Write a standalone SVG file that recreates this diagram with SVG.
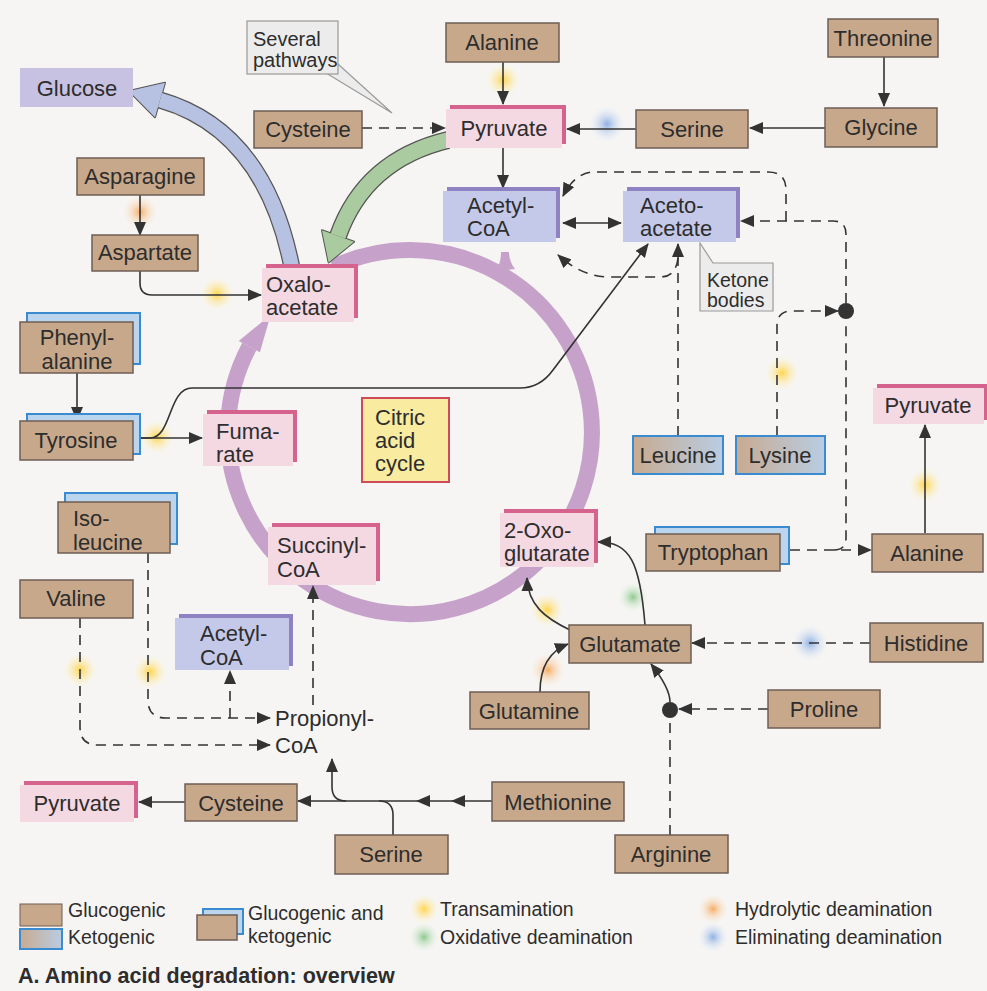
<svg xmlns="http://www.w3.org/2000/svg" width="987" height="991" viewBox="0 0 987 991">
<style>
.t{font-family:'Liberation Sans',Arial,Helvetica,sans-serif;font-size:22px;fill:#2d2d2d}
.m{text-anchor:middle}
.s{font-size:20px}
.l{font-size:19.5px}
.gb{fill:#c8a88b;stroke:#6e5e54;stroke-width:1.5}
.kb{fill:#bcd5ee;stroke:#3a8bd0;stroke-width:2}
.kt{fill:url(#kg);stroke:#3a8bd0;stroke-width:2}
.pb{fill:#d6638d}
.pf{fill:#f4d8e2}
.lb{fill:#8e82c3}
.lf{fill:#c5c9e9}
.c{fill:none;stroke:#333;stroke-width:1.6}
.d{stroke-dasharray:10 7}
.call{fill:#ececec;stroke:#9a9a9a;stroke-width:1.2}
</style>
<defs>
<linearGradient id="kg" x1="0" y1="0" x2="1" y2="0"><stop offset="0" stop-color="#c8aa90"/><stop offset="1" stop-color="#b9cde3"/></linearGradient>
<radialGradient id="gy"><stop offset="0" stop-color="#ffd23c" stop-opacity="0.9"/><stop offset="0.45" stop-color="#ffe07a" stop-opacity="0.5"/><stop offset="1" stop-color="#fff3c0" stop-opacity="0"/></radialGradient>
<radialGradient id="go"><stop offset="0" stop-color="#f5a04a" stop-opacity="0.85"/><stop offset="0.45" stop-color="#f8c08a" stop-opacity="0.45"/><stop offset="1" stop-color="#fde0c0" stop-opacity="0"/></radialGradient>
<radialGradient id="gg"><stop offset="0" stop-color="#7cc07c" stop-opacity="0.85"/><stop offset="0.45" stop-color="#a8d6a8" stop-opacity="0.45"/><stop offset="1" stop-color="#d8f0d8" stop-opacity="0"/></radialGradient>
<radialGradient id="gbl"><stop offset="0" stop-color="#7ea4e0" stop-opacity="0.85"/><stop offset="0.45" stop-color="#a8c2ec" stop-opacity="0.45"/><stop offset="1" stop-color="#d8e4f8" stop-opacity="0"/></radialGradient>
<marker id="ah" markerUnits="userSpaceOnUse" markerWidth="14" markerHeight="12" viewBox="0 0 14 12" refX="13" refY="6" orient="auto"><path d="M0,0 L14,6 L0,12 Z" fill="#333"/></marker>
<marker id="ahr" markerUnits="userSpaceOnUse" markerWidth="14" markerHeight="12" viewBox="0 0 14 12" refX="13" refY="6" orient="auto-start-reverse"><path d="M0,0 L14,6 L0,12 Z" fill="#333"/></marker>
</defs>
<rect width="987" height="991" fill="#f6f5f3"/>

<!-- citric acid cycle ring -->
<g id="ring">
<path d="M333.1,267.1 A182,182 0 1 1 249.3,346.5" fill="none" stroke="#c6a1c9" stroke-width="16"/>
<polygon points="259.9,352.2 238.7,340.9 270.6,315" fill="#c6a1c9"/>
<path d="M497,271 C500,263 501,258 501,252 L509,252 C509,258 511,264 515,269 Z" fill="#c6a1c9"/>
</g>

<!-- big curved arrows -->
<g id="big-arrows">
<path d="M292,268 Q265,130 160,100" fill="none" stroke="#555" stroke-width="17"/>
<polygon points="165,82.7 155,117.3 129,91" fill="#555" stroke="#555" stroke-width="2" stroke-linejoin="round"/>
<path d="M292,268 Q265,130 160,100" fill="none" stroke="#b7c1e2" stroke-width="14.5"/>
<polygon points="165,82.7 155,117.3 129,91" fill="#b7c1e2"/>
<path d="M448,140 Q365,160 338,236" fill="none" stroke="#555" stroke-width="18"/>
<polygon points="354,241.7 322,230.3 328.6,262.4" fill="#555" stroke="#555" stroke-width="2" stroke-linejoin="round"/>
<path d="M448,140 Q365,160 338,236" fill="none" stroke="#a9cb9f" stroke-width="15.5"/>
<polygon points="354,241.7 322,230.3 328.6,262.4" fill="#a9cb9f"/>
</g>

<!-- deamination glows -->
<g id="glows">
<circle cx="503" cy="80" r="17" fill="url(#gy)"/>
<circle cx="607" cy="124" r="18" fill="url(#gbl)"/>
<circle cx="140" cy="212" r="17" fill="url(#go)"/>
<circle cx="217" cy="294" r="17" fill="url(#gy)"/>
<circle cx="157" cy="437" r="17" fill="url(#gy)"/>
<circle cx="782" cy="373" r="17" fill="url(#gy)"/>
<circle cx="925" cy="485" r="17" fill="url(#gy)"/>
<circle cx="80" cy="670" r="17" fill="url(#gy)"/>
<circle cx="150" cy="672" r="17" fill="url(#gy)"/>
<circle cx="547" cy="610" r="17" fill="url(#gy)"/>
<circle cx="548" cy="670" r="17" fill="url(#go)"/>
<circle cx="633" cy="597" r="15" fill="url(#gg)"/>
<circle cx="810" cy="643" r="18" fill="url(#gbl)"/>
</g>

<!-- connectors -->
<g id="connectors">
<path class="c" d="M503,62 V104" marker-end="url(#ah)"/>
<path class="c d" d="M362,128 H445" marker-end="url(#ah)"/>
<path class="c" d="M636,129 H567" marker-end="url(#ah)"/>
<path class="c" d="M503,148 V188" marker-end="url(#ah)"/>
<path class="c" d="M825,128 H750" marker-end="url(#ah)"/>
<path class="c" d="M884,57 V106" marker-end="url(#ah)"/>
<path class="c" d="M563,223 H621" marker-start="url(#ahr)" marker-end="url(#ahr)"/>
<path class="c d" d="M846,303 V234 Q846,221 833,221 H741" marker-end="url(#ah)"/>
<path class="c d" d="M786,221 V190 Q786,172 768,172 H592 Q574,174 563,196" marker-end="url(#ah)"/>
<path class="c d" d="M678,436 V244" marker-end="url(#ah)"/>
<path class="c d" d="M678,258 Q676,277 660,277 H610 Q582,277 558,255" marker-end="url(#ah)"/>
<path class="c d" d="M777,436 V326 Q777,311 792,311 H838" marker-end="url(#ah)"/>
<circle cx="846" cy="311" r="8" fill="#333"/>
<path class="c d" d="M834,550 Q846,550 846,538 V320"/>
<path class="c d" d="M790,550 H871" marker-end="url(#ah)"/>
<path class="c" d="M925,533 V425" marker-end="url(#ah)"/>
<path class="c" d="M140,195 V235" marker-end="url(#ah)"/>
<path class="c" d="M140,271 V283 Q140,295 152,295 H261" marker-end="url(#ah)"/>
<path class="c" d="M77,373 V420" marker-end="url(#ah)"/>
<path class="c" d="M133,438 H202" marker-end="url(#ah)"/>
<path class="c" d="M140,438 H150 C172,438 168,388 192,388 H520 Q540,388 553,370 L648,244" marker-end="url(#ah)"/>
<path class="c d" d="M148,553 V700 Q148,718 166,718 H270" marker-end="url(#ah)"/>
<path class="c d" d="M80,618 V727 Q80,745 98,745 H270" marker-end="url(#ah)"/>
<path class="c d" d="M230,718 V671" marker-end="url(#ah)"/>
<path class="c d" d="M313,705 V586" marker-end="url(#ah)"/>
<path class="c" d="M492,801 H298" marker-end="url(#ah)"/>
<polygon points="465,795 451,801 465,807" fill="#333"/>
<polygon points="430,795 416,801 430,807" fill="#333"/>
<path class="c" d="M393,835 V815 Q393,801 379,801"/>
<path class="c" d="M346,801 Q332,801 332,787 V759" marker-end="url(#ah)"/>
<path class="c" d="M185,802 H139" marker-end="url(#ah)"/>
<path class="c" d="M540,692 Q540,655 568,644" marker-end="url(#ah)"/>
<path class="c" d="M570,630 C545,618 528,605 527,578" marker-end="url(#ah)"/>
<path class="c" d="M645,625 C640,562 630,542 598,542" marker-end="url(#ah)"/>
<path class="c d" d="M870,643 H692" marker-end="url(#ah)"/>
<path class="c d" d="M768,709 H679" marker-end="url(#ah)"/>
<circle cx="670" cy="710" r="8" fill="#333"/>
<path class="c" d="M670,702 Q670,688 651,664" marker-end="url(#ah)"/>
<path class="c d" d="M670,835 V718"/>
</g>

<!-- callouts -->
<g id="several-pathways">
<polygon class="call" points="326,73 338,64 392,113"/>
<rect class="call" x="247" y="21" width="91" height="53"/>
<text class="t s" x="253" y="46">Several</text>
<text class="t s" x="253" y="67">pathways</text>
</g>
<g id="ketone-bodies">
<polygon class="call" points="700,243 713,263 773,263 773,311 700,311"/>
<text class="t l" x="707" y="287">Ketone</text>
<text class="t l" x="707" y="307">bodies</text>
</g>

<!-- nodes -->
<g id="glucose"><rect x="20" y="68" width="113" height="39" fill="#c8c2e2"/><text class="t m" x="77" y="96">Glucose</text></g>
<g id="alanine-top"><rect class="gb" x="446" y="23" width="113" height="39"/><text class="t m" x="502" y="50">Alanine</text></g>
<g id="threonine"><rect class="gb" x="828" y="19" width="110" height="38"/><text class="t m" x="883" y="46">Threonine</text></g>
<g id="cysteine-top"><rect class="gb" x="254" y="111" width="108" height="37"/><text class="t m" x="308" y="137">Cysteine</text></g>
<g id="pyruvate-top"><rect class="pb" x="450" y="105" width="116" height="39"/><rect class="pf" x="446" y="109" width="116" height="39"/><text class="t m" x="504" y="136">Pyruvate</text></g>
<g id="serine-top"><rect class="gb" x="636" y="110" width="112" height="38"/><text class="t m" x="692" y="137">Serine</text></g>
<g id="glycine"><rect class="gb" x="825" y="108" width="112" height="39"/><text class="t m" x="881" y="135">Glycine</text></g>
<g id="asparagine"><rect class="gb" x="77" y="158" width="127" height="37"/><text class="t m" x="140" y="184">Asparagine</text></g>
<g id="aspartate"><rect class="gb" x="92" y="235" width="106" height="36"/><text class="t m" x="145" y="260">Aspartate</text></g>
<g id="acetyl-coa-top"><rect class="lb" x="447" y="187" width="113" height="51"/><rect class="lf" x="443" y="191" width="113" height="51"/><text class="t" x="467" y="213">Acetyl-</text><text class="t" x="467" y="236">CoA</text></g>
<g id="acetoacetate"><rect class="lb" x="627" y="187" width="113" height="51"/><rect class="lf" x="623" y="191" width="113" height="51"/><text class="t" x="640" y="213">Aceto-</text><text class="t" x="640" y="236">acetate</text></g>
<g id="oxaloacetate"><rect class="pb" x="266" y="264" width="92" height="54"/><rect class="pf" x="262" y="268" width="92" height="54"/><text class="t" x="266" y="292">Oxalo-</text><text class="t" x="266" y="315">acetate</text></g>
<g id="phenylalanine"><rect class="kb" x="27" y="313" width="113" height="51"/><rect class="gb" x="20" y="322" width="113" height="51"/><text class="t m" x="77" y="345">Phenyl-</text><text class="t m" x="77" y="369">alanine</text></g>
<g id="pyruvate-right"><rect class="pb" x="877" y="384" width="111" height="36"/><rect class="pf" x="873" y="388" width="111" height="36"/><text class="t m" x="928" y="413">Pyruvate</text></g>
<g id="citric-acid-cycle"><rect x="362" y="398" width="87" height="84" fill="#f9eba0" stroke="#cf4a5a" stroke-width="2"/><text class="t" x="375" y="425">Citric</text><text class="t" x="375" y="448">acid</text><text class="t" x="375" y="471">cycle</text></g>
<g id="fumarate"><rect class="pb" x="207" y="410" width="90" height="52"/><rect class="pf" x="203" y="414" width="90" height="52"/><text class="t" x="216" y="439">Fuma-</text><text class="t" x="216" y="462">rate</text></g>
<g id="tyrosine"><rect class="kb" x="27" y="414" width="113" height="40"/><rect class="gb" x="20" y="421" width="113" height="39"/><text class="t m" x="76" y="448">Tyrosine</text></g>
<g id="leucine"><rect class="kt" x="633" y="436" width="90" height="38"/><text class="t m" x="678" y="463">Leucine</text></g>
<g id="lysine"><rect class="kt" x="736" y="436" width="89" height="38"/><text class="t m" x="780" y="463">Lysine</text></g>
<g id="isoleucine"><rect class="kb" x="65" y="493" width="112" height="51"/><rect class="gb" x="58" y="502" width="112" height="51"/><text class="t" x="73" y="526">Iso-</text><text class="t" x="73" y="550">leucine</text></g>
<g id="succinyl-coa"><rect class="pb" x="272" y="523" width="108" height="58"/><rect class="pf" x="268" y="527" width="108" height="58"/><text class="t" x="277" y="553">Succinyl-</text><text class="t" x="277" y="577">CoA</text></g>
<g id="oxoglutarate"><rect class="pb" x="504" y="509" width="94" height="54"/><rect class="pf" x="500" y="513" width="94" height="54"/><text class="t" x="504" y="538">2-Oxo-</text><text class="t" x="504" y="561">glutarate</text></g>
<g id="tryptophan"><rect class="kb" x="655" y="527" width="134" height="37"/><rect class="gb" x="646" y="534" width="134" height="37"/><text class="t m" x="713" y="560">Tryptophan</text></g>
<g id="alanine-right"><rect class="gb" x="872" y="534" width="111" height="38"/><text class="t m" x="927" y="561">Alanine</text></g>
<g id="valine"><rect class="gb" x="20" y="580" width="113" height="38"/><text class="t m" x="76" y="606">Valine</text></g>
<g id="acetyl-coa-bottom"><rect class="lb" x="179" y="614" width="114" height="52"/><rect class="lf" x="175" y="618" width="114" height="52"/><text class="t" x="200" y="641">Acetyl-</text><text class="t" x="200" y="665">CoA</text></g>
<g id="glutamate"><rect class="gb" x="569" y="625" width="122" height="38"/><text class="t m" x="630" y="652">Glutamate</text></g>
<g id="histidine"><rect class="gb" x="870" y="623" width="113" height="39"/><text class="t m" x="926" y="651">Histidine</text></g>
<g id="glutamine"><rect class="gb" x="470" y="692" width="119" height="37"/><text class="t m" x="529" y="719">Glutamine</text></g>
<g id="proline"><rect class="gb" x="768" y="690" width="112" height="38"/><text class="t m" x="824" y="717">Proline</text></g>
<g id="propionyl-coa"><text class="t" x="275" y="726">Propionyl-</text><text class="t" x="275" y="753">CoA</text></g>
<g id="pyruvate-bottom"><rect class="pb" x="24" y="781" width="114" height="37"/><rect class="pf" x="20" y="785" width="114" height="37"/><text class="t m" x="77" y="811">Pyruvate</text></g>
<g id="cysteine-bottom"><rect class="gb" x="185" y="784" width="112" height="37"/><text class="t m" x="241" y="811">Cysteine</text></g>
<g id="methionine"><rect class="gb" x="492" y="782" width="132" height="39"/><text class="t m" x="558" y="810">Methionine</text></g>
<g id="serine-bottom"><rect class="gb" x="335" y="835" width="113" height="39"/><text class="t m" x="391" y="862">Serine</text></g>
<g id="arginine"><rect class="gb" x="615" y="835" width="113" height="38"/><text class="t m" x="671" y="862">Arginine</text></g>

<!-- legend -->
<g id="legend">
<rect class="gb" x="20" y="904" width="42" height="22" style="stroke-width:1"/>
<rect class="kt" x="20" y="929" width="42" height="20"/>
<text class="t l" x="68" y="917">Glucogenic</text>
<text class="t l" x="68" y="944">Ketogenic</text>
<rect class="kb" x="203" y="909" width="40" height="25"/>
<rect class="gb" x="197" y="915" width="40" height="25"/>
<text class="t l" x="248" y="920">Glucogenic and</text>
<text class="t l" x="248" y="943">ketogenic</text>
<circle cx="424" cy="909" r="15" fill="url(#gy)"/>
<circle cx="424" cy="937" r="15" fill="url(#gg)"/>
<text class="t l" x="440" y="916">Transamination</text>
<text class="t l" x="440" y="944">Oxidative deamination</text>
<circle cx="713" cy="909" r="15" fill="url(#go)"/>
<circle cx="713" cy="937" r="15" fill="url(#gbl)"/>
<text class="t l" x="735" y="916">Hydrolytic deamination</text>
<text class="t l" x="735" y="944">Eliminating deamination</text>
<text class="t" x="18" y="983" style="font-weight:bold;font-size:21.5px">A. Amino acid degradation: overview</text>
</g>
</svg>
